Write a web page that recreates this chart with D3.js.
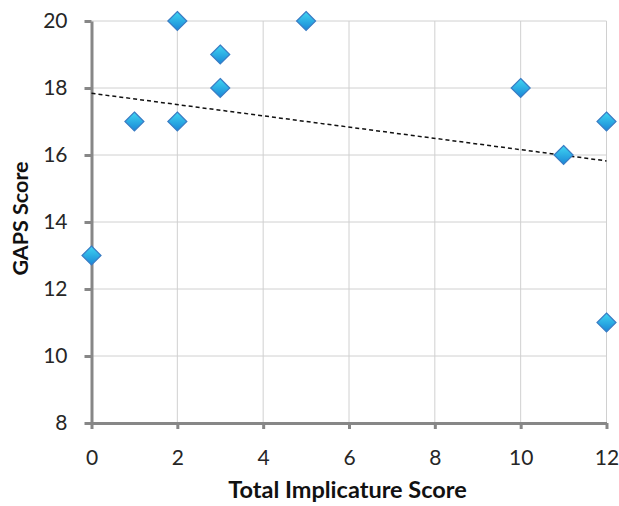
<!DOCTYPE html>
<html><head><meta charset="utf-8">
<script src="https://cdn.jsdelivr.net/npm/d3@7"></script>
<style>body{margin:0;background:#fff;} svg{display:block;}</style>
</head><body>
<svg id="c" width="619" height="506"></svg>
<script>
const xValues = [0, 1, 2, 2, 3, 3, 5, 10, 11, 12, 12];
const yValues = [13, 17, 20, 17, 19, 18, 20, 18, 16, 17, 11];
const xTicks = [0, 2, 4, 6, 8, 10, 12];
const yTicks = [8, 10, 12, 14, 16, 18, 20];
const xTitle = "Total Implicature Score";
const yTitle = "GAPS Score";

const svg = d3.select("#c");
const font = "Lato, 'Open Sans', sans-serif";
const x = d3.scaleLinear().domain([0, 12]).range([91.5, 606.5]);
const y = d3.scaleLinear().domain([8, 20]).range([423, 21]);

const defs = svg.append("defs");
const g = defs.append("linearGradient").attr("id", "dg").attr("x1", 0).attr("y1", 0).attr("x2", 0).attr("y2", 1);
g.append("stop").attr("offset", "0%").attr("stop-color", "#3fd6f2");
g.append("stop").attr("offset", "100%").attr("stop-color", "#1a86d6");

// gridlines
svg.append("g").selectAll("line").data(xTicks.filter(d => d > 0)).join("line")
  .attr("x1", d => x(d)).attr("x2", d => x(d)).attr("y1", y(8)).attr("y2", y(20))
  .attr("stroke", "#d0d0d0").attr("stroke-width", 1);
svg.append("g").selectAll("line").data(yTicks.filter(d => d > 8)).join("line")
  .attr("x1", x(0)).attr("x2", x(12)).attr("y1", d => y(d)).attr("y2", d => y(d))
  .attr("stroke", "#d0d0d0").attr("stroke-width", 1);

// axes
const xAxis = svg.append("g").attr("transform", `translate(0,${y(8)})`)
  .call(d3.axisBottom(x).tickValues(xTicks).tickSize(6).tickPadding(21).tickSizeOuter(0));
const yAxis = svg.append("g").attr("transform", `translate(${x(0)},0)`)
  .call(d3.axisLeft(y).tickValues(yTicks).tickSize(7).tickPadding(17).tickSizeOuter(0));
[xAxis, yAxis].forEach(a => {
  a.select(".domain").attr("stroke", "#878787").attr("stroke-width", 3);
  a.selectAll(".tick line").attr("stroke", "#878787").attr("stroke-width", 3);
  a.selectAll(".tick text").attr("fill", "#262626").style("font-family", font).style("font-size", "21px");
});

// trendline (least squares)
const n = xValues.length;
const mx = d3.mean(xValues), my = d3.mean(yValues);
let sxy = 0, sxx = 0;
for (let i = 0; i < n; i++) { sxy += (xValues[i]-mx)*(yValues[i]-my); sxx += (xValues[i]-mx)**2; }
const slope = sxy / sxx, icpt = my - slope * mx;
svg.append("line")
  .attr("x1", x(0)).attr("y1", y(icpt)).attr("x2", x(12)).attr("y2", y(icpt + slope * 12))
  .attr("stroke", "#111").attr("stroke-width", 1.5).attr("stroke-dasharray", "4,3");

// points
const pts = xValues.map((v, i) => ({x: v, y: yValues[i]}));
svg.append("g").selectAll("path").data(pts).join("path")
  .attr("transform", d => `translate(${x(d.x)},${y(d.y)})`)
  .attr("d", "M0,-9.5L9.5,0L0,9.5L-9.5,0Z")
  .attr("fill", "url(#dg)").attr("stroke", "#3a7cc4").attr("stroke-width", 1.2);

// titles
svg.append("text").attr("x", 347.5).attr("y", 498).attr("text-anchor", "middle")
  .style("font-family", font).style("font-weight", "bold").style("font-size", "23.5px").attr("fill", "#111")
  .text(xTitle);
svg.append("text").attr("transform", "translate(28,218.5) rotate(-90)").attr("text-anchor", "middle")
  .style("font-family", font).style("font-weight", "bold").style("font-size", "21.5px").attr("fill", "#111")
  .text(yTitle);
</script>
</body></html>
